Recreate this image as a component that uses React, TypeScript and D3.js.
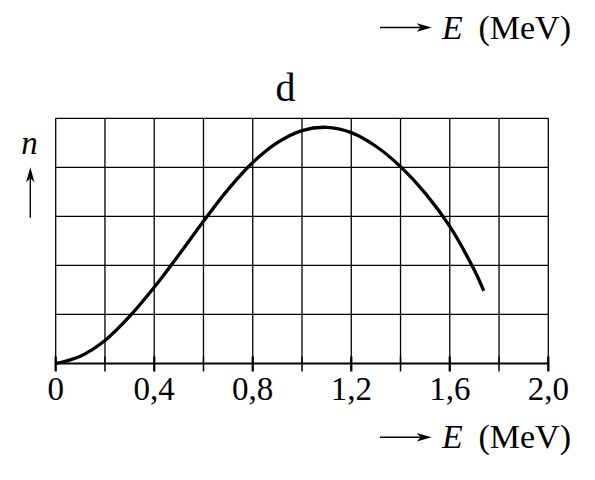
import React from "react";
import * as d3 from "d3";

const energy = [0, 0.1, 0.2, 0.3, 0.4, 0.5, 0.6, 0.7, 0.8, 0.9, 1.0, 1.1, 1.2, 1.3, 1.4, 1.5, 1.6, 1.7, 1.738];
const counts = [0, 0.15, 0.47, 0.96, 1.555, 2.215, 2.9, 3.55, 4.1, 4.505, 4.75, 4.816, 4.708, 4.43, 4.015, 3.475, 2.795, 1.9, 1.48];
const gridX = [0, 0.2, 0.4, 0.6, 0.8, 1.0, 1.2, 1.4, 1.6, 1.8, 2.0];
const gridY = [0, 1, 2, 3, 4, 5];
const tickValues = [0, 0.4, 0.8, 1.2, 1.6, 2.0];
const tickLabels = ["0", "0,4", "0,8", "1,2", "1,6", "2,0"];
const title = "d";
const axisUnit = "(MeV)";

const W = 595;
const H = 480;
const FONT = "'Liberation Serif', 'Times New Roman', serif";

function HArrow({ x1, x2, y }: { x1: number; x2: number; y: number }) {
  const L = 15;
  const hw = 4.2;
  return (
    <g>
      <line x1={x1} x2={x2 - 8} y1={y} y2={y} stroke="#000" strokeWidth={1.4} />
      <path
        d={`M${x2},${y} L${x2 - L},${y - hw} L${x2 - L + 4},${y} L${x2 - L},${y + hw} Z`}
        fill="#000"
      />
    </g>
  );
}

function VArrow({ x, y1, y2 }: { x: number; y1: number; y2: number }) {
  const L = 15;
  const hw = 4.2;
  return (
    <g>
      <line x1={x} x2={x} y1={y1} y2={y2 + 8} stroke="#000" strokeWidth={1.4} />
      <path
        d={`M${x},${y2} L${x - hw},${y2 + L} L${x},${y2 + L - 4} L${x + hw},${y2 + L} Z`}
        fill="#000"
      />
    </g>
  );
}

function AxisLabel({ y }: { y: number }) {
  return (
    <g fontFamily={FONT} fontSize={34} fill="#000">
      <HArrow x1={380} x2={431.7} y={y - 11} />
      <text x={442} y={y} fontStyle="italic">E</text>
      <text x={571} y={y} textAnchor="end">{axisUnit}</text>
    </g>
  );
}

export default function App() {
  const x = d3.scaleLinear().domain([0, 2]).range([55.7, 548.3]);
  const y = d3.scaleLinear().domain([0, 5]).range([363.5, 118.3]);

  const pts: [number, number][] = energy.map((e, i) => [e, counts[i]]);
  const line = d3
    .line<[number, number]>()
    .x((d) => x(d[0]))
    .y((d) => y(d[1]))
    .curve(d3.curveCatmullRom.alpha(0.5));

  return (
    <svg
      width={W}
      height={H}
      viewBox={`0 0 ${W} ${H}`}
      style={{ position: "absolute", left: 0, top: 0, background: "#fff" }}
    >
      <rect x={0} y={0} width={W} height={H} fill="#fff" />
      <AxisLabel y={38.5} />

      <text x={285.5} y={100.5} fontFamily={FONT} fontSize={40} textAnchor="middle">
        {title}
      </text>

      {/* grid */}
      <g stroke="#000" strokeWidth={1.3}>
        {gridX.map((g) => (
          <line key={"gx" + g} x1={x(g)} x2={x(g)} y1={y(5)} y2={y(0)} />
        ))}
        {gridY.filter((g) => g > 0).map((g) => (
          <line key={"gy" + g} x1={x(0)} x2={x(2)} y1={y(g)} y2={y(g)} />
        ))}
      </g>

      {/* bottom axis */}
      <line x1={x(0) - 0.8} x2={x(2) + 0.8} y1={y(0)} y2={y(0)} stroke="#000" strokeWidth={2.2} />
      <g stroke="#000">
        {gridX.map((g, i) => (
          <line
            key={"t" + g}
            x1={x(g)}
            x2={x(g)}
            y1={y(0) - 7}
            y2={y(0) + 8}
            strokeWidth={i % 2 === 0 ? 2.3 : 1.5}
          />
        ))}
      </g>

      <g fontFamily={FONT} fontSize={33} textAnchor="middle" fill="#000">
        {tickValues.map((t, i) => (
          <text key={"l" + t} x={x(t)} y={400}>
            {tickLabels[i]}
          </text>
        ))}
      </g>

      {/* y label */}
      <text x={29.5} y={154} fontFamily={FONT} fontSize={33} fontStyle="italic" textAnchor="middle">
        n
      </text>
      <VArrow x={30.3} y1={217.7} y2={167.3} />

      {/* curve */}
      <path d={line(pts) || ""} fill="none" stroke="#000" strokeWidth={3.3} strokeLinejoin="round" />

      <AxisLabel y={448.3} />
    </svg>
  );
}
